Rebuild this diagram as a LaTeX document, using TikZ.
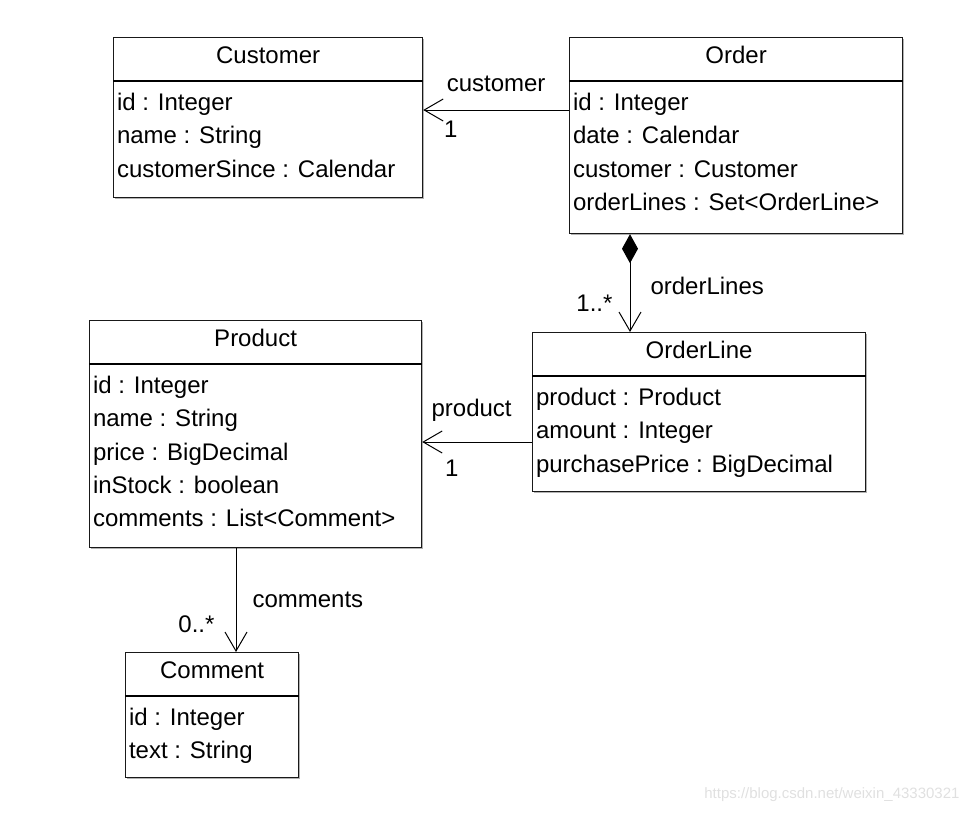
\documentclass[tikz,border=0pt]{standalone}
\usepackage{fontspec}
\setmainfont{Liberation Sans}
\usetikzlibrary{arrows.meta}
\usetikzlibrary{shadows}
\newcommand\umlfont{\fontsize{24}{28}\selectfont}
\tikzset{classbox/.style={draw=black!90,line width=1.2pt,fill=white,anchor=north west,inner sep=0pt,
                          drop shadow={shadow xshift=1.5pt,shadow yshift=-1.5pt,opacity=0.3,fill=black}}}
\tikzset{classtitle/.style={anchor=base,inner sep=0pt,font=\umlfont}}
\tikzset{attr/.style={anchor=base west,inner sep=0pt,font=\umlfont}}
\def\rowsep{33.3pt}

\begin{document}
\begin{tikzpicture}[x=1pt,y=-1pt,line width=1pt]
    \tikzstyle{assoc}=[-{Straight Barb[length=19pt,width=22pt]}]
    \tikzstyle{compos}=[{Diamond[length=29pt,width=16pt]}-{Straight Barb[length=19pt,width=22pt]}]
    \tikzstyle{lbl}=[inner sep=0pt,font=\umlfont]

    \useasboundingbox (0,0) rectangle (969,814);

    % Draw the class boxes with their title compartment
    \foreach \name / \x / \y / \w / \h in {Customer/113/37/309/160, Order/569/37/333/196,
        OrderLine/532/332/333/159, Product/89/320/332/227, Comment/125/652/173/125}
    {
        \node[classbox,minimum width=\w pt,minimum height=\h pt] (\name) at (\x,\y) {};
        \node[classtitle] (\name-title) at ([yshift=-26pt]\name.north) {\name};
        \draw[line width=1.2pt] ([yshift=-44pt]\name.north west) -- ([yshift=-44pt]\name.north east);
    }

    % Fill in the attributes, one row per line
    \foreach \name / \attrs in {Customer/{id : Integer,name : String,customerSince : Calendar},
        Order/{id : Integer,date : Calendar,customer : Customer,orderLines : Set<OrderLine>},
        OrderLine/{product : Product,amount : Integer,purchasePrice : BigDecimal},
        Product/{id : Integer,name : String,price : BigDecimal,inStock : boolean,comments : List<Comment>},
        Comment/{id : Integer,text : String}}
        \foreach \a [count=\i] in \attrs
            \node[attr] (\name-\i) at ([xshift=3.5pt,yshift={-73.5pt-(\i-1)*\rowsep}]\name.north west) {\a};

    % Order -> Customer
    \coordinate (cust-from) at ([yshift=-73pt]Order.north west);
    \draw[assoc] (cust-from) -- (cust-from -| Customer.east)
        node[lbl,pos=0.5,yshift=26pt] (cust-role) {customer}
        node[lbl,pos=0.81,yshift=-19.5pt] (cust-mult) {1};

    % Order <>-> OrderLine (composition)
    \coordinate (ol-from) at ([xshift=61pt]Order.south west);
    \draw[compos] (ol-from) -- (ol-from |- OrderLine.north)
        node[lbl,pos=0.53,anchor=west,xshift=20pt] (ol-role) {orderLines}
        node[lbl,pos=0.71,anchor=east,xshift=-17pt] (ol-mult) {1..*};

    % OrderLine -> Product
    \coordinate (prod-from) at ([yshift=-110pt]OrderLine.north west);
    \draw[assoc] (prod-from) -- (prod-from -| Product.east)
        node[lbl,pos=0.55,yshift=32pt] (prod-role) {product}
        node[lbl,pos=0.73,yshift=-26pt] (prod-mult) {1};

    % Product -> Comment
    \coordinate (com-from) at ([xshift=147pt]Product.south west);
    \draw[assoc] (com-from) -- (com-from |- Comment.north)
        node[lbl,pos=0.5,anchor=west,xshift=16pt] (com-role) {comments}
        node[lbl,pos=0.73,anchor=east,xshift=-21pt] (com-mult) {0..*};

    \node[anchor=east,inner sep=0pt,text=black!12,font=\fontsize{15}{18}\selectfont] (watermark)
        at (960,795) {https://blog.csdn.net/weixin\_43330321};
\end{tikzpicture}
\end{document}
